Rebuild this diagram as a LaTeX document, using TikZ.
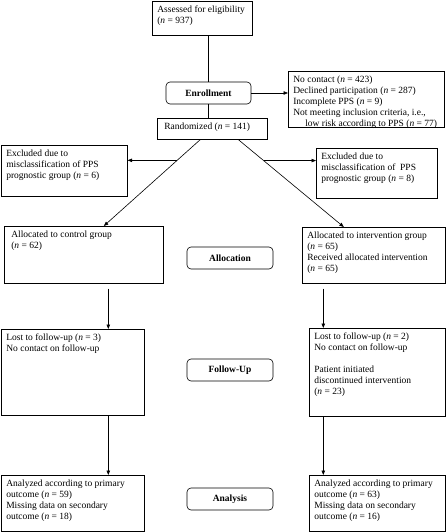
\documentclass[tikz,border=0pt]{standalone}
\usepackage{fontspec}
\setmainfont{Liberation Serif}
\usetikzlibrary{arrows.meta,calc}
\newcommand{\cellbox}[3]{\parbox[t][#2pt][t]{#1pt}{\raggedright\rule{0pt}{11pt}#3}}

\begin{document}
\begin{tikzpicture}[x=1pt, y=-1pt, line width=0.6pt, >={Triangle[length=4.5pt,width=3.5pt]}, rect/.style={rectangle, draw=black, anchor=north west, inner xsep=5pt, inner ysep=0pt, font=\fontsize{9.5}{11}\selectfont}, stage/.style={rectangle, draw=black, rounded corners=4pt, minimum width=#1, minimum height=22pt, inner sep=0pt, font=\bfseries\fontsize{9.5}{11}\selectfont}, stage/.default=86pt]

\useasboundingbox (0,0) rectangle (446,532);

\node [rect] (ASSESS) at (152,1){\cellbox{90}{34}{Assessed for eligibility\\(\textit{n} = 937)}};
\node [stage=85pt] (ENROLL) at (208.5,93){Enrollment};
\node [rect] (RAND) at (157,118){\cellbox{100}{21}{\hspace*{2pt}Randomized (\textit{n} = 141)}};
\node [rect] (EXCL) at (288,71){\cellbox{146}{56}{No contact (\textit{n} = 423)\\Declined participation (\textit{n} = 287)\\Incomplete PPS (\textit{n} = 9)\\Not meeting inclusion criteria, i.e.,\\\hspace*{12pt}low risk according to PPS (\textit{n} = 77)}};
\node [rect] (EXL) at (1,145){\cellbox{116}{51}{Excluded due to\\misclassification of PPS\\prognostic group (\textit{n} = 6)}};
\node [rect] (EXR) at (316,148){\cellbox{111}{50}{Excluded due to\\misclassification of~ PPS\\prognostic group (\textit{n} = 8)}};
\node [rect] (CTRL) at (4,226){\cellbox{149}{57}{\hspace*{2pt}Allocated to control group\\\hspace*{2pt}(\textit{n} = 62)}};
\node [rect] (INTV) at (302,227){\cellbox{133}{56}{Allocated to intervention group\\(\textit{n} = 65)\\Received allocated intervention\\(\textit{n} = 65)}};
\node [stage] (ALLOC) at (230,258){Allocation};
\node [rect] (LOSTC) at (1,329){\cellbox{133}{86}{Lost to follow-up (\textit{n} = 3)\\No contact on follow-up}};
\node [rect] (LOSTI) at (309,328){\cellbox{126}{88}{Lost to follow-up (\textit{n} = 2)\\No contact on follow-up\\[11pt]Patient initiated\\discontinued intervention\\(\textit{n} = 23)}};
\node [stage] (FOLLOW) at (230,370){Follow-Up};
\node [rect] (ANAC) at (1,475){\cellbox{133}{56}{Analyzed according to primary\\outcome (\textit{n} = 59)\\Missing data on secondary\\outcome (\textit{n} = 18)}};
\node [rect] (ANAI) at (309,475){\cellbox{126}{56}{Analyzed according to primary\\outcome (\textit{n} = 63)\\Missing data on secondary\\outcome (\textit{n} = 16)}};
\node [stage] (ANALYSIS) at (230,499){Analysis};

\coordinate (CA) at ($(CTRL.south)+(24.5,5)$);
\coordinate (IA) at ($(INTV.south)+(-50.5,5)$);

\draw (ENROLL.north) -- (ENROLL.north |- ASSESS.south);
\draw (ENROLL.south) -- (ENROLL.south |- RAND.north);
\draw[->] (ENROLL.east) -- (ENROLL.east -| EXCL.west);
\draw[->] ([xshift=-12]RAND.south) -- coordinate[pos=0.24] (DL) ([xshift=20]CTRL.north);
\draw[->] ([xshift=26]RAND.south) -- coordinate[pos=0.24] (DR) ([xshift=-30]INTV.north);
\draw[->] (DL) -- (DL -| EXL.east);
\draw[->] (DR) -- (DR -| EXR.west);
\draw[->] (CA) -- (CA |- LOSTC.north);
\draw[->] (IA) -- (IA |- LOSTI.north);
\draw[->] (CA |- LOSTC.south) -- (CA |- ANAC.north);
\draw[->] (IA |- LOSTI.south) -- (IA |- ANAI.north);

\end{tikzpicture}
\end{document}
